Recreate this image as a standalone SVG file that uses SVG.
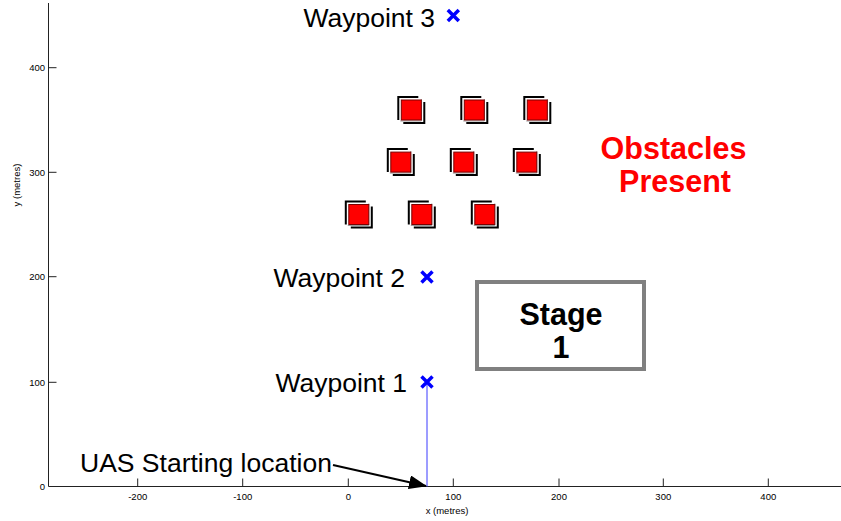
<svg xmlns="http://www.w3.org/2000/svg" width="841" height="521" viewBox="0 0 841 521">
<defs>
<style>
.t{font-family:"Liberation Sans",Arial,sans-serif;}
.tick{font-size:9.5px;fill:#000;}
.axis{stroke:#222;stroke-width:1;fill:none;}
.wp{font-size:26.5px;fill:#000;text-anchor:end;}
.mk{stroke:#0000ff;stroke-width:3.5;stroke-linecap:butt;}
.ob-red{fill:#ff0000;stroke:#7a0000;stroke-width:1;}
.ob-k{fill:none;stroke:#000;stroke-width:2;}
.ob-g{fill:none;stroke:#9a9a9a;stroke-width:1;}
.big{font-size:30.5px;font-weight:bold;text-anchor:middle;}
</style>
<marker id="ah" markerWidth="18" markerHeight="14" refX="17" refY="7" orient="auto" markerUnits="userSpaceOnUse">
<path d="M0,0 L18,7 L0,14 Z" fill="#000"/>
</marker>
<g id="obs">
<path class="ob-k" d="M-13,10 V-13 H7"/>
<path class="ob-g" d="M-11,11 H10 V-11"/>
<rect class="ob-red" x="-10" y="-10" width="20" height="20"/>
<path class="ob-k" d="M-8,13 H13 V-8"/>
</g>
</defs>
<rect width="841" height="521" fill="#fff"/>
<g id="axes">
<path class="axis" d="M48.5,3 V486.5 H841"/>
<path class="axis" d="M137.7,486.5 v-8 M242.7,486.5 v-8 M348.3,486.5 v-8 M453.3,486.5 v-8 M559,486.5 v-8 M663.3,486.5 v-8 M768.3,486.5 v-8"/>
<path class="axis" d="M48.5,382.3 h8 M48.5,276.7 h8 M48.5,172.3 h8 M48.5,67.7 h8"/>
<g class="t tick" text-anchor="middle">
<text x="137.7" y="500">-200</text>
<text x="242.7" y="500">-100</text>
<text x="348.3" y="500">0</text>
<text x="453.3" y="500">100</text>
<text x="559" y="500">200</text>
<text x="663.3" y="500">300</text>
<text x="768.3" y="500">400</text>
<text x="447" y="514">x (metres)</text>
<text transform="translate(20,185) rotate(-90)">y (metres)</text>
</g>
<g class="t tick" text-anchor="end">
<text x="45" y="490">0</text>
<text x="45" y="385.5">100</text>
<text x="45" y="280">200</text>
<text x="45" y="175.5">300</text>
<text x="45" y="71">400</text>
</g>
</g>
<g id="connectors">
<line x1="427" y1="486.5" x2="427" y2="382" stroke="#3a3aff" stroke-width="1"/>
<line x1="333" y1="465" x2="426" y2="486" stroke="#000" stroke-width="2" marker-end="url(#ah)"/>
</g>
<g id="waypoint1">
<path class="mk" d="M421.5,376.5 L432.5,387.5 M432.5,376.5 L421.5,387.5"/>
<text class="t wp" x="407" y="391.5">Waypoint 1</text>
</g>
<g id="waypoint2">
<path class="mk" d="M421.5,271.5 L432.5,282.5 M432.5,271.5 L421.5,282.5"/>
<text class="t wp" x="405" y="286.5">Waypoint 2</text>
</g>
<g id="waypoint3">
<path class="mk" d="M447.8,10.1 L458.8,21.1 M458.8,10.1 L447.8,21.1"/>
<text class="t wp" x="435" y="26.5">Waypoint 3</text>
</g>
<g id="start">
<text class="t" x="80" y="472" font-size="26.5">UAS Starting location</text>
</g>
<g id="obstacles">
<use href="#obs" x="411.3" y="110"/>
<use href="#obs" x="474.3" y="110"/>
<use href="#obs" x="537.3" y="110"/>
<use href="#obs" x="400.8" y="162.1"/>
<use href="#obs" x="463.8" y="162.1"/>
<use href="#obs" x="526.8" y="162.1"/>
<use href="#obs" x="358.8" y="214.5"/>
<use href="#obs" x="421.8" y="214.5"/>
<use href="#obs" x="484.8" y="214.5"/>
</g>
<g id="obstacles-label">
<text class="t big" x="673.5" y="159" fill="#ff0000">Obstacles</text>
<text class="t big" x="675" y="192" fill="#ff0000">Present</text>
</g>
<g id="stage">
<rect x="477" y="282" width="167" height="87" fill="#fff" stroke="#808080" stroke-width="4"/>
<text class="t big" x="561" y="325">Stage</text>
<text class="t big" x="561" y="358">1</text>
</g>
</svg>
